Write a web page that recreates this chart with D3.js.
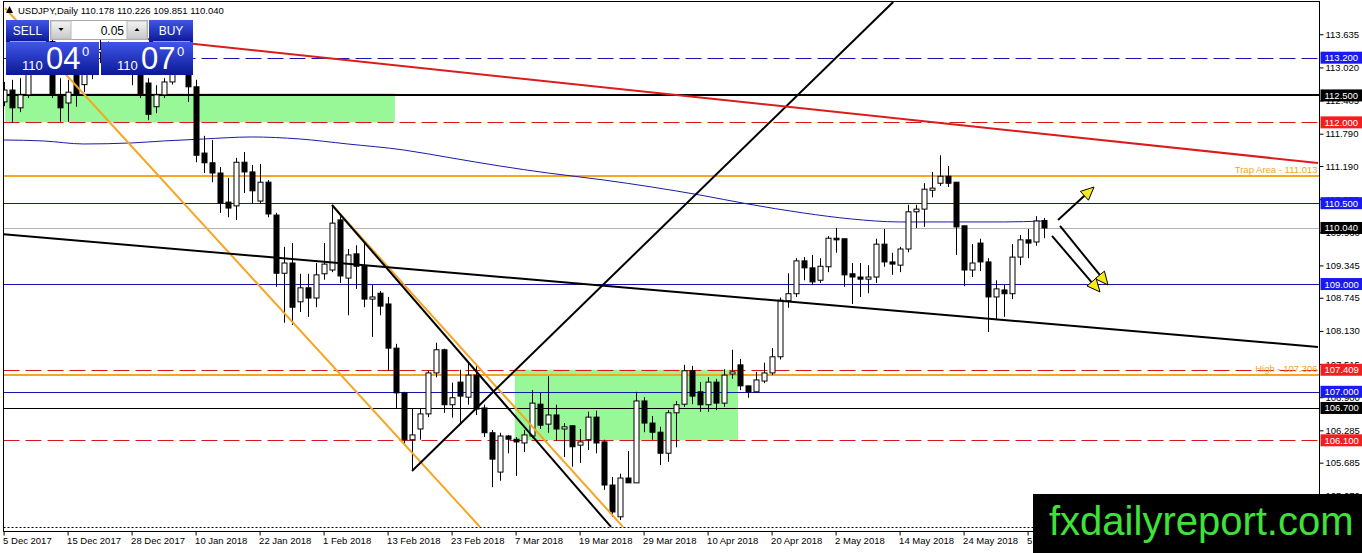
<!DOCTYPE html>
<html>
<head>
<meta charset="utf-8">
<script src="https://cdn.jsdelivr.net/npm/d3@7"></script>
<style>
  body { margin: 0; background: #fff; }
  svg { display: block; font-family: "Liberation Sans", Arial, sans-serif; }
</style>
</head>
<body>
<svg id="chart" width="1362" height="553"></svg>
<script>
// USDJPY daily candles, 5 Dec 2017 .. 7 Jun 2018
const opens = [112.38,112.60,112.27,112.51,113.10,113.45,113.50,112.51,112.36,112.95,
  112.70,112.95,113.30,113.35,113.30,113.25,113.20,112.90,112.73,112.29,
  112.51,112.75,113.00,113.05,112.66,111.43,111.25,111.06,110.52,110.45,
  111.26,111.08,110.54,110.89,110.28,109.20,109.39,108.67,108.93,108.74,
  109.19,109.26,110.19,109.11,109.56,109.33,108.72,108.83,108.63,107.81,
  106.98,106.11,106.31,106.59,107.35,107.78,106.76,107.18,106.90,107.31,
  106.70,106.24,105.51,106.18,106.12,106.05,106.18,106.77,106.40,106.57,
  106.31,106.37,106.01,106.11,106.53,106.07,105.27,104.68,105.40,105.31,
  106.83,106.42,106.25,105.86,106.61,106.77,107.39,107.00,106.76,107.18,
  106.79,107.33,107.50,107.11,107.00,107.20,107.35,107.65,108.69,108.82,
  109.43,109.30,109.07,109.32,109.85,109.84,109.19,109.13,109.09,109.13,
  109.74,109.41,109.35,109.65,110.34,110.39,110.74,110.87,111.00,110.89,
  110.08,109.26,109.76,109.41,108.76,108.89,108.82,109.50,109.82,109.78,
  110.178];
const highs = [112.75,112.79,112.82,113.15,113.55,113.70,113.60,112.82,112.79,113.10,
  113.10,113.40,113.60,113.50,113.40,113.45,113.35,112.95,112.82,112.69,
  112.82,113.10,113.30,113.20,112.79,111.75,111.67,111.17,110.97,111.34,
  111.45,111.21,111.23,110.93,110.32,109.69,109.76,109.19,109.19,109.39,
  109.76,110.45,110.26,109.65,109.72,109.76,108.98,108.87,108.76,107.89,
  107.00,106.70,106.70,107.39,107.91,107.80,107.17,107.41,107.54,107.50,
  106.76,106.29,106.24,106.20,106.16,106.29,107.03,106.98,107.29,106.76,
  106.42,106.37,106.31,106.63,106.65,106.11,105.42,105.48,105.90,107.00,
  106.90,106.55,106.35,106.66,106.83,107.50,107.48,107.18,107.27,107.24,
  107.42,107.78,107.61,107.11,107.37,107.54,107.81,108.75,109.20,109.48,
  109.50,109.54,109.48,109.89,110.04,109.84,109.39,109.39,109.35,109.84,
  110.02,109.58,109.69,110.47,110.47,110.87,111.08,111.39,111.19,110.89,
  110.08,109.74,109.84,109.48,109.07,108.98,109.74,109.91,110.02,110.26,
  110.226];
const lows = [112.30,111.99,112.19,112.45,113.00,113.20,112.45,112.01,112.01,112.29,
  112.56,112.80,113.10,113.15,113.10,113.10,112.69,112.45,112.04,112.17,
  112.45,112.70,112.90,112.38,111.26,111.06,110.89,110.32,110.24,110.19,
  110.69,110.49,110.50,110.24,108.95,108.28,108.24,108.48,108.39,108.57,
  109.08,109.22,109.02,108.42,108.91,108.57,108.02,108.42,107.39,106.70,
  106.01,105.55,106.11,106.53,107.27,106.61,106.52,106.39,106.76,106.57,
  106.16,105.23,105.35,105.86,105.44,105.88,106.14,106.31,106.24,106.09,
  105.79,105.61,105.68,105.92,105.86,105.18,104.68,104.62,105.31,105.31,
  106.25,106.11,105.64,105.70,105.97,106.72,106.77,106.63,106.63,106.66,
  106.72,107.24,107.03,106.89,106.98,107.16,107.31,107.60,108.56,108.76,
  109.07,108.98,109.02,109.22,109.58,108.95,108.63,108.76,108.83,109.02,
  109.32,109.17,109.22,109.59,110.04,110.06,110.61,110.82,110.80,109.54,
  108.96,109.13,109.24,108.11,108.33,108.39,108.72,109.35,109.48,109.71,
  109.851];
const closes = [112.60,112.27,112.51,113.10,113.45,113.50,112.51,112.27,112.56,112.51,
  112.95,113.30,113.35,113.30,113.25,113.20,112.90,112.51,112.15,112.51,
  112.75,113.00,113.10,112.66,111.39,111.25,111.06,110.50,110.41,111.26,
  111.08,110.73,110.89,110.30,109.20,109.39,108.57,108.93,108.74,109.17,
  109.37,110.13,109.15,109.54,109.33,108.72,108.76,108.59,107.81,106.98,
  106.11,106.20,106.59,107.35,107.78,106.76,106.89,106.92,107.31,106.68,
  106.24,105.75,106.18,106.12,106.07,106.20,106.79,106.38,106.57,106.31,
  106.35,105.98,106.07,106.53,106.05,105.27,104.77,105.40,105.31,106.83,
  106.42,106.25,105.86,106.61,106.76,107.39,106.92,106.76,107.18,106.79,
  107.31,107.37,107.11,107.00,107.22,107.35,107.65,108.70,108.82,109.43,
  109.30,109.04,109.33,109.85,109.82,109.17,109.13,109.09,109.13,109.74,
  109.41,109.37,109.65,110.34,110.39,110.76,110.78,111.00,110.87,110.06,
  109.26,109.39,109.41,108.76,108.91,108.82,109.50,109.82,109.76,110.17,
  110.040];

// moving average (blue), read at some bars
const maBars = [0,5,10,16,20,25,31,37,43,50,56,62,68,75,81,87,93,100,106,112,118,125,130];
const maVals = [111.673,111.655,111.599,111.618,111.655,111.692,111.729,111.692,111.599,111.488,
  111.339,111.191,111.061,110.931,110.801,110.653,110.486,110.318,110.207,110.152,110.152,110.152,110.170];

// date labels, one every 8 bars
const dateIdx = [0,8,16,24,32,40,48,56,64,72,80,88,96,104,112,120,128];
const dateLabels = ["5 Dec 2017","15 Dec 2017","28 Dec 2017","10 Jan 2018","22 Jan 2018","1 Feb 2018",
  "13 Feb 2018","23 Feb 2018","7 Mar 2018","19 Mar 2018","29 Mar 2018","10 Apr 2018","20 Apr 2018",
  "2 May 2018","14 May 2018","24 May 2018","5 Jun 2018"];

// price scale ticks
const priceTicks = [113.635,113.020,112.405,111.790,111.190,110.575,109.960,109.345,108.745,108.130,
  107.515,106.900,106.285,105.685,105.070];

// horizontal levels: price, kind
const levelPrices = [113.200,112.500,112.000,111.013,110.500,110.040,109.000,107.409,107.306,107.000,106.700,106.100,104.490];
const levelKinds  = ["blueDash","black2","redDash","orange","blue","gray","blue","redDash","orange","blue","black","redDash","dots"];
const levelTexts  = ["","","","Trap Area - 111.013","","","","","High - 107.306","","","",""];

// trend lines: [bar1, price1, bar2, price2]
const trendRed = [12.05,113.64,164.3,111.246];
const trendBlackLong = [0,109.923,164.3,107.832];
const trendBlackUp = [51.05,105.531,111.2,114.234];
const trendBlackDown = [41.05,110.467,75.93,104.492];
const trendOrangeA = [0.175,114.123,59.55,104.492];
const trendOrangeB = [41.05,110.467,77.43,104.492];

// zones: [bar1, bar2, priceTop, priceBottom]
const zoneA = [0.2,48.9,112.54,112.00];
const zoneB = [63.9,91.8,107.409,106.10];

// arrows: [bar1, price1, bar2, price2]
const arrowUp = [131.8,110.189,136.3,110.80];
const arrowDown1 = [132.05,110.077,138.05,108.982];
const arrowDown2 = [131.05,109.892,137.05,108.853];

const svg = d3.select("#chart");
const L = 3.5, R = 1319.5, T = 1.5, B = 531.5;

const x = d3.scaleLinear().domain([0,130]).range([3.6,1043.6]);
const y = d3.scaleLinear().domain([113.2,106.1]).range([57.7,440.3]);

const defs = svg.append("defs");
defs.append("clipPath").attr("id","plot")
  .append("rect").attr("x",L).attr("y",T).attr("width",R-L).attr("height",B-T);
const gr = defs.append("linearGradient").attr("id","blueBtn").attr("x1",0).attr("y1",0).attr("x2",0).attr("y2",1);
gr.append("stop").attr("offset","0%").attr("stop-color","#4056e8");
gr.append("stop").attr("offset","100%").attr("stop-color","#0b1896");
const gg = defs.append("linearGradient").attr("id","grayBtn").attr("x1",0).attr("y1",0).attr("x2",0).attr("y2",1);
gg.append("stop").attr("offset","0%").attr("stop-color","#f4f4f4");
gg.append("stop").attr("offset","100%").attr("stop-color","#c8c8c8");

const plot = svg.append("g").attr("clip-path","url(#plot)");

// zones
[zoneA, zoneB].forEach(z => {
  plot.append("rect")
    .attr("x",x(z[0])).attr("y",y(z[2]))
    .attr("width",x(z[1])-x(z[0])).attr("height",y(z[3])-y(z[2]))
    .attr("fill","#98f898");
});

// horizontal levels
const styles = {
  blueDash: {c:"#1515b0", w:1, d:"16,6"},
  black2:   {c:"#000", w:2, d:null},
  redDash:  {c:"#d81818", w:1, d:"16,6"},
  orange:   {c:"#f5a623", w:2, d:null},
  blue:     {c:"#1515b0", w:1, d:null},
  gray:     {c:"#b4b4b4", w:1, d:null},
  black:    {c:"#000", w:1, d:null},
  dots:     {c:"#000", w:1, d:"2,2"}
};
levelPrices.forEach((p,i) => {
  const s = styles[levelKinds[i]];
  const yy = Math.round(y(p)) + (s.w===1 ? 0.5 : 0);
  plot.append("line").attr("x1",L).attr("x2",R).attr("y1",yy).attr("y2",yy)
    .attr("stroke",s.c).attr("stroke-width",s.w).attr("stroke-dasharray",s.d);
  if (levelTexts[i]) {
    plot.append("text").attr("x",R-2).attr("y",yy-3).attr("text-anchor","end")
      .attr("font-size",9.5).attr("fill","#f5a623").text(levelTexts[i]);
  }
});

// moving average
plot.append("path")
  .datum(maBars.map((b,i)=>[b,maVals[i]]))
  .attr("fill","none").attr("stroke","#1a1aa6").attr("stroke-width",1)
  .attr("d", d3.line().x(d=>x(d[0])).y(d=>y(d[1])).curve(d3.curveMonotoneX));

// candles
const candles = plot.append("g");
opens.forEach((o,i) => {
  const cx = Math.round(x(i)) + 0.5;
  const c = closes[i];
  candles.append("line").attr("x1",cx).attr("x2",cx)
    .attr("y1",y(highs[i])).attr("y2",y(lows[i])).attr("stroke","#000");
  const top = y(Math.max(o,c)), bot = y(Math.min(o,c));
  candles.append("rect").attr("x",cx-2.5).attr("y",top)
    .attr("width",5).attr("height",Math.max(1,bot-top))
    .attr("fill", c < o ? "#000" : "#fff").attr("stroke","#000").attr("stroke-width",1);
});

// trend lines
function trend(t, color, w) {
  plot.append("line")
    .attr("x1",x(t[0])).attr("y1",y(t[1])).attr("x2",x(t[2])).attr("y2",y(t[3]))
    .attr("stroke",color).attr("stroke-width",w);
}
trend(trendOrangeA,"#f5a623",2);
trend(trendOrangeB,"#f5a623",2);
trend(trendBlackDown,"#000",2);
trend(trendBlackUp,"#000",2);
trend(trendBlackLong,"#000",2);
trend(trendRed,"#dc1c1c",2);

// arrows
function arrow(a) {
  const x1 = x(a[0]), y1 = y(a[1]), x2 = x(a[2]), y2 = y(a[3]);
  const ang = Math.atan2(y2-y1, x2-x1);
  const hl = 13, hw = 6;
  const bx = x2 - hl*Math.cos(ang), by = y2 - hl*Math.sin(ang);
  plot.append("line").attr("x1",x1).attr("y1",y1).attr("x2",bx).attr("y2",by)
    .attr("stroke","#000").attr("stroke-width",2);
  const px = -Math.sin(ang)*hw, py = Math.cos(ang)*hw;
  plot.append("path")
    .attr("d",`M${x2},${y2}L${bx+px},${by+py}L${bx-px},${by-py}Z`)
    .attr("fill","#f7e81a").attr("stroke","#000").attr("stroke-width",1);
}
arrow(arrowUp);
arrow(arrowDown1);
arrow(arrowDown2);

// frame
svg.append("rect").attr("x",L).attr("y",T).attr("width",R-L).attr("height",B-T)
  .attr("fill","none").attr("stroke","#000");

// right price axis
const yAxis = svg.append("g").attr("transform",`translate(${R},0)`)
  .call(d3.axisRight(y).tickValues(priceTicks).tickSize(4).tickPadding(2).tickFormat(d3.format(".3f")));
yAxis.select(".domain").remove();
yAxis.selectAll("text").attr("font-family","Liberation Sans, Arial, sans-serif").attr("font-size",9.5).attr("fill","#000");
yAxis.selectAll("line").attr("stroke","#000");

// level price tags
const tagColors = {blueDash:"#1a1af0", blue:"#1a1af0", black2:"#000", black:"#000", gray:"#000", redDash:"#f02020"};
levelPrices.forEach((p,i) => {
  const col = tagColors[levelKinds[i]];
  if (!col) return;
  const yy = y(p);
  svg.append("rect").attr("x",R+1).attr("y",yy-6).attr("width",1362-R).attr("height",12).attr("fill",col);
  svg.append("text").attr("x",R+5).attr("y",yy+3.5).attr("font-size",9.5).attr("fill","#fff")
    .text(d3.format(".3f")(p));
});

// bottom date axis
const xAxis = svg.append("g").attr("transform",`translate(0,${B})`)
  .call(d3.axisBottom(x).tickValues(dateIdx).tickSize(4).tickFormat((d,i)=>dateLabels[i]));
xAxis.select(".domain").remove();
xAxis.selectAll("text").attr("text-anchor","start").attr("dx",-1).attr("dy","0.55em")
  .attr("font-family","Liberation Sans, Arial, sans-serif").attr("font-size",9.5).attr("fill","#000");
xAxis.selectAll("line").attr("stroke","#000");

// header
svg.append("path").attr("d","M6,13L9.5,6L13,13Z").attr("fill","#000");
svg.append("text").attr("x",18).attr("y",14).attr("font-size",9.5).attr("fill","#000")
  .text("USDJPY,Daily  110.178 110.226 109.851 110.040");

// one-click trading panel
const panel = svg.append("g");
panel.append("rect").attr("x",6).attr("y",20).attr("width",43).attr("height",22).attr("fill","url(#blueBtn)");
panel.append("text").attr("x",27.5).attr("y",35).attr("text-anchor","middle").attr("font-size",12).attr("fill","#fff").text("SELL");
panel.append("line").attr("x1",10).attr("x2",46).attr("y1",41.5).attr("y2",41.5).attr("stroke","#8d9cf5");
panel.append("rect").attr("x",149).attr("y",20).attr("width",44).attr("height",22).attr("fill","url(#blueBtn)");
panel.append("text").attr("x",171).attr("y",35).attr("text-anchor","middle").attr("font-size",12).attr("fill","#fff").text("BUY");
panel.append("line").attr("x1",153).attr("x2",190).attr("y1",41.5).attr("y2",41.5).attr("stroke","#8d9cf5");
panel.append("rect").attr("x",50.5).attr("y",20.5).attr("width",97).attr("height",19).attr("fill","#fff").attr("stroke","#a8a8a8");
panel.append("rect").attr("x",51).attr("y",21).attr("width",20).attr("height",18).attr("fill","url(#grayBtn)").attr("stroke","#b8b8b8");
panel.append("rect").attr("x",127).attr("y",21).attr("width",20).attr("height",18).attr("fill","url(#grayBtn)").attr("stroke","#b8b8b8");
panel.append("path").attr("d","M58.5,28L63.5,28L61,31Z").attr("fill","#000");
panel.append("path").attr("d","M134.5,31L139.5,31L137,28Z").attr("fill","#000");
panel.append("text").attr("x",124).attr("y",35).attr("text-anchor","end").attr("font-size",12).attr("fill","#000").text("0.05");
[[6,93,"04"],[101,92,"07"]].forEach(([px,pw,big]) => {
  panel.append("rect").attr("x",px).attr("y",42).attr("width",pw).attr("height",33).attr("fill","url(#blueBtn)");
  panel.append("text").attr("x",px+16).attr("y",70).attr("font-size",13).attr("fill","#fff").text("110");
  panel.append("text").attr("x",px+40).attr("y",69).attr("font-size",31).attr("fill","#fff").text(big);
  panel.append("text").attr("x",px+76).attr("y",56).attr("font-size",13).attr("fill","#fff").text("0");
});

// watermark
svg.append("rect").attr("x",1033).attr("y",494).attr("width",329).attr("height",59).attr("fill","#000");
svg.append("text").attr("x",1049).attr("y",535).attr("font-size",40).attr("fill","#3fe23a")
  .text("fxdailyreport.com");
</script>
</body>
</html>
